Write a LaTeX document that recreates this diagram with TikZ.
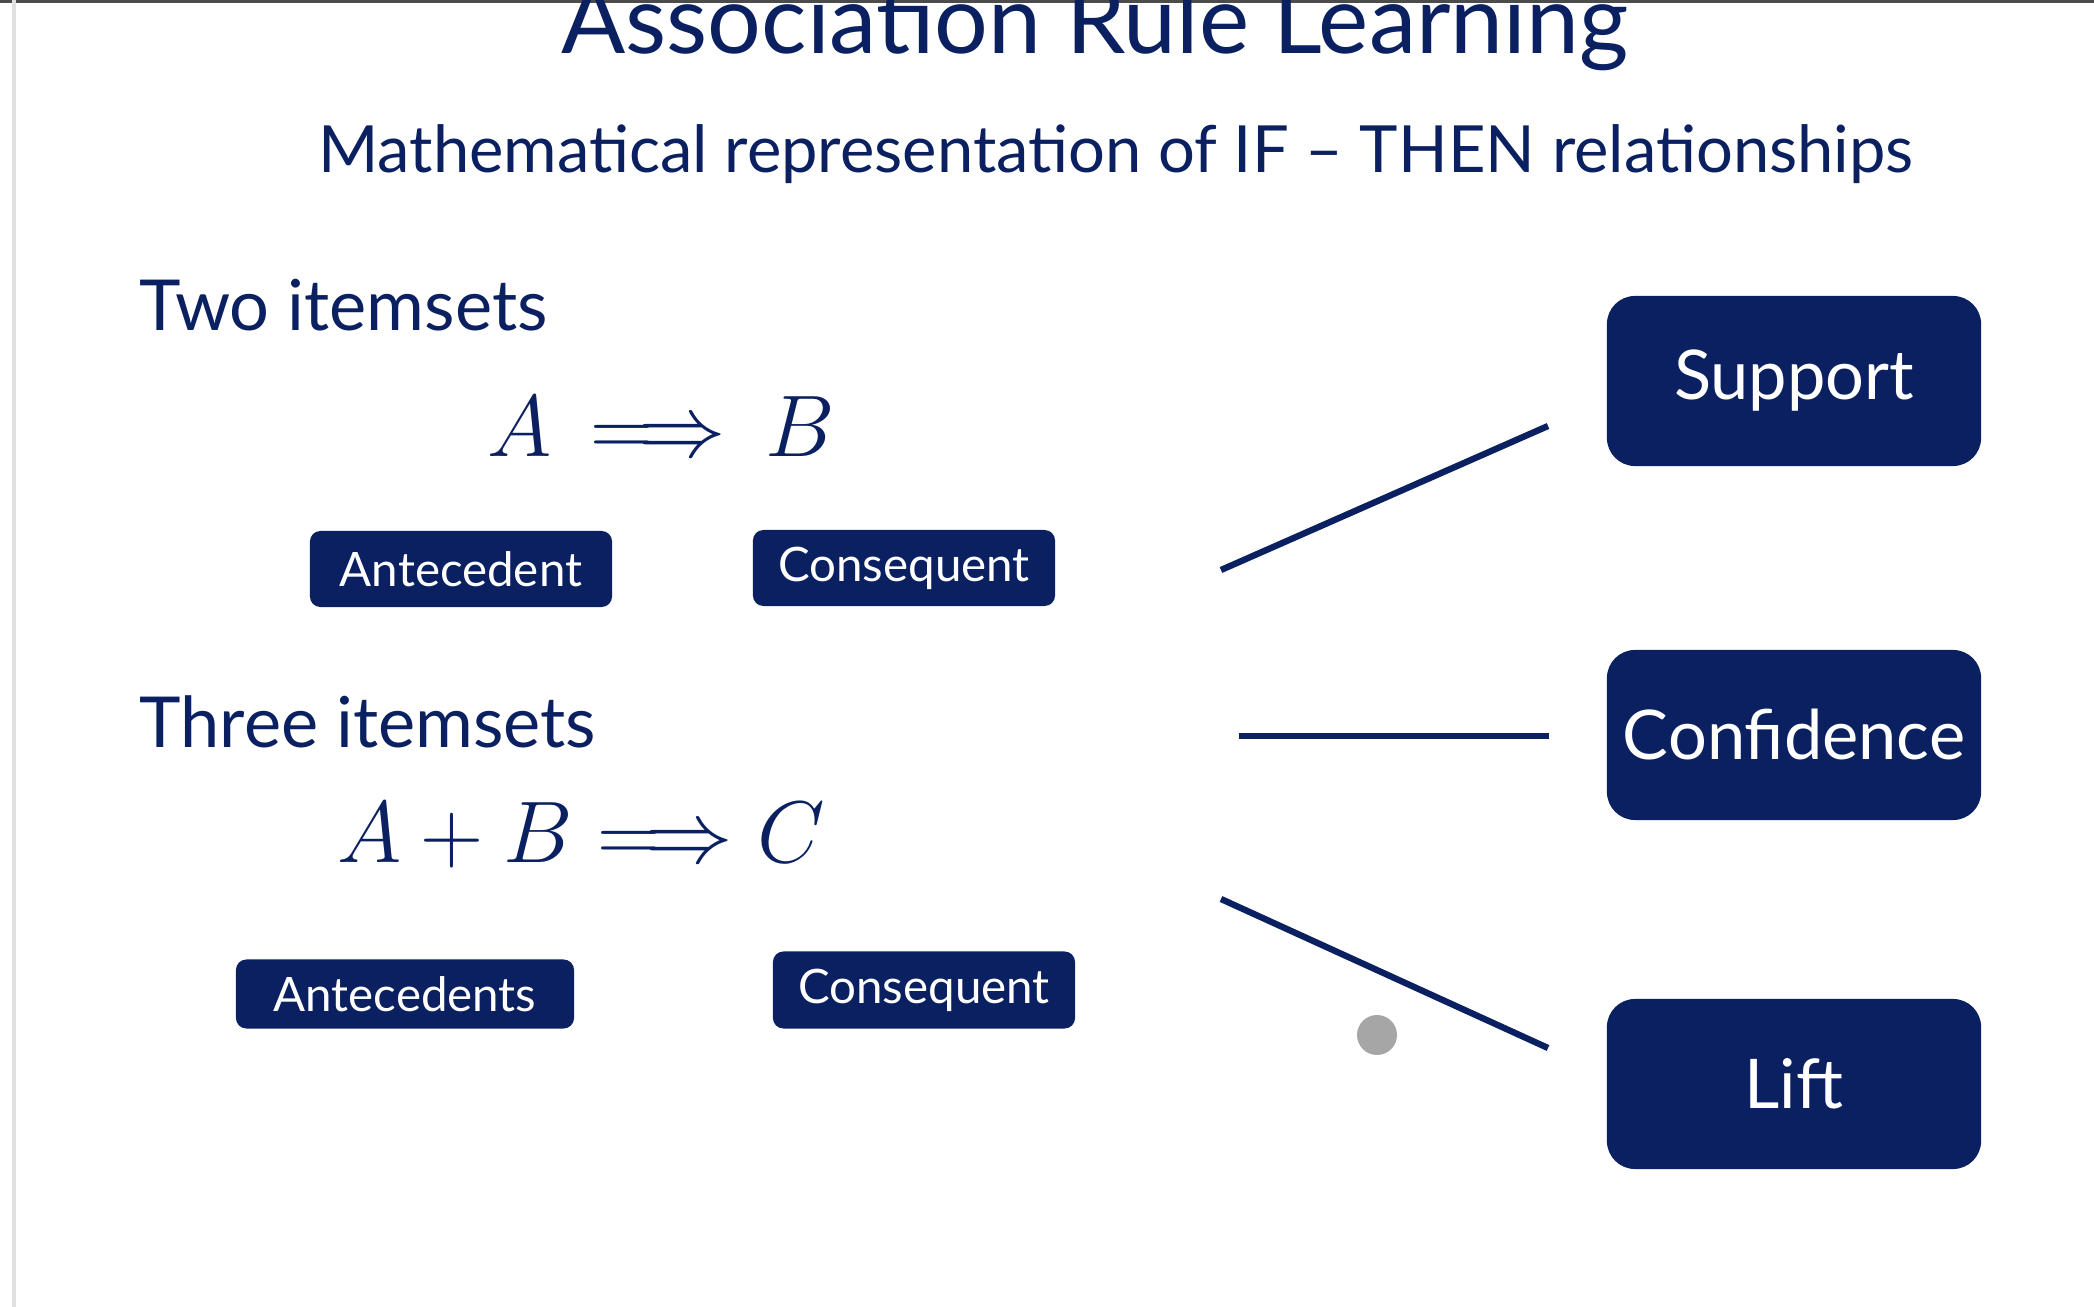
\documentclass[tikz,border=0pt]{standalone}
\usepackage{fontspec}
\setmainfont{Lato}
\usetikzlibrary{positioning}
\definecolor{navy}{RGB}{10,32,96}
\begin{document}
\begin{tikzpicture}[x=0.01cm,y=-0.01cm,
        label box/.style={fill=navy, text=white, rounded corners=3pt, minimum width=3.02cm, minimum height=0.76cm, inner sep=0pt, font=\fontsize{13.5}{16}\selectfont},
        measure/.style={fill=navy, text=white, rounded corners=8pt, minimum width=3.74cm, minimum height=1.7cm, inner sep=0pt, font=\fontsize{19.5}{23}\selectfont},
        heading/.style={text=navy, anchor=west, inner sep=0pt, font=\fontsize{20}{24}\selectfont},
        link/.style={draw=navy, line width=1.8pt}
        ]
        \useasboundingbox (0,0) rectangle (2094,1307);
        \fill [white] (0,0) rectangle (2094,1307);
        \draw [black!70, line width=1pt] (0,1) -- (2094,1);
        \draw [black!12, line width=1pt] (14,0) -- (14,1307);
        % titles
        \node [name=title, text=navy, font=\fontsize{27}{30}\selectfont] at (1095,27) {Association Rule Learning};
        \node [name=subtitle, text=navy, font=\fontsize{18.5}{22}\selectfont] at (1116,154) {Mathematical representation of IF -- THEN relationships};
        % two itemsets
        \node [name=two, heading] at (139,305) {Two itemsets};
        \node [name=ruleab, text=navy, font=\fontsize{43}{46}\selectfont] at (661,427) {$A\,\Longrightarrow\,B$};
        \node [name=ante, label box] at (461,569) {Antecedent};
        \node [name=cons, label box] at (904,568) {Consequent};
        % three itemsets
        \node [name=three, heading] at (139,722) {Three itemsets};
        \node [name=ruleabc, text=navy, font=\fontsize{43}{46}\selectfont] at (581,835) {$A+B\Longrightarrow C$};
        \node [name=antes, label box, minimum width=3.38cm, minimum height=0.69cm] at (405,994) {Antecedents};
        \node [name=cons2, label box, minimum height=0.77cm] at (924,990) {Consequent};
        % measures
        \node [name=support, measure] at (1794,381) {Support};
        \node [name=confidence, measure] at (1794,735) {Confidence};
        \node [name=lift, measure] at (1794,1084) {Lift};
        \coordinate (sa) at (1221,570);
        \coordinate (sb) at (1548,426);
        \coordinate (ca) at (1239,736);
        \coordinate (cb) at (1549,736);
        \coordinate (la) at (1221,899);
        \coordinate (lb) at (1548,1048);
        \draw [link] (sa) -- (sb);
        \draw [link] (ca) -- (cb);
        \draw [link] (la) -- (lb);
        \fill [black!35] (1377,1035) circle (20);
\end{tikzpicture}
\end{document}
